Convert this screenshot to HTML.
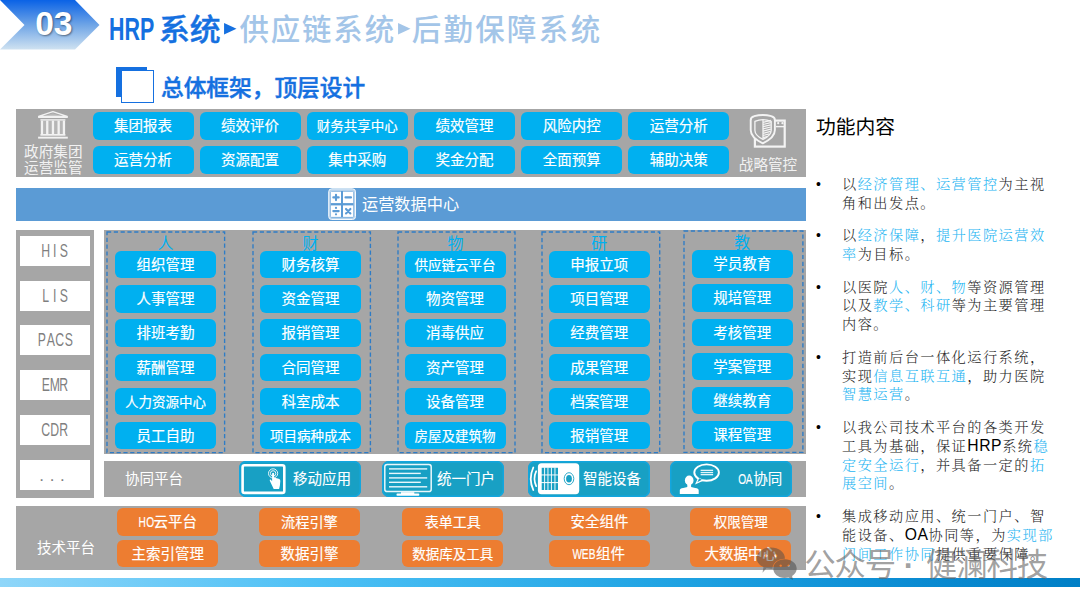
<!DOCTYPE html>
<html lang="zh-CN">
<head>
<meta charset="utf-8">
<title>HRP系统 供应链系统 后勤保障系统</title>
<style>
html,body{margin:0;padding:0;background:#fff;}
body{width:1080px;height:608px;position:relative;overflow:hidden;font-family:"Liberation Sans","Noto Sans CJK SC",sans-serif;}
.abs{position:absolute;}
.panel{position:absolute;background:#a6a6a6;}
.btn{position:absolute;width:101px;height:27.5px;border-radius:6px;background:#00b0f0;color:#fff;font-size:14.5px;line-height:29.4px;text-align:center;font-weight:400;-webkit-text-stroke:0.18px #fff;white-space:nowrap;}
.btn.sm,.obtn.sm{font-size:13.5px;}
.obtn{position:absolute;width:101.3px;height:27.6px;border-radius:6px;background:#ed7d31;color:#fff;font-size:14.5px;line-height:29.4px;text-align:center;font-weight:400;-webkit-text-stroke:0.18px #fff;white-space:nowrap;}
.dash{position:absolute;overflow:visible;}
.cat{position:absolute;width:40px;text-align:center;color:#00b0f0;font-size:16px;line-height:18px;}
.wbox{position:absolute;left:19.5px;width:70.5px;height:30px;background:#fff;color:#7f7f7f;font-size:17.5px;line-height:30.5px;text-align:center;}
.hw{display:inline-block;width:1em;margin:0 -0.243em;transform:scaleX(.7);text-align:center;}
.tbtn{position:absolute;height:36.4px;border-radius:7px;background:#18a0c4;box-shadow:0 0 0 1.5px #13a6de inset;color:#fff;font-size:14.5px;font-weight:400;-webkit-text-stroke:0.12px #fff;}
.lbl{position:absolute;color:#fff;white-space:nowrap;}

#bl{position:absolute;left:842px;top:175.1px;margin:0;padding:0;list-style:none;width:240px;font-family:"Liberation Serif","Noto Serif CJK SC",serif;font-size:14.2px;line-height:18.9px;letter-spacing:1.47px;color:#262626;font-weight:300;}
#bl li{position:relative;margin:0 0 13.4px 0;white-space:nowrap;}
#bl li:before{content:"•";position:absolute;left:-26px;top:0;font-family:"Liberation Sans",sans-serif;font-size:14px;letter-spacing:0;color:#000;}
#bl b{font-weight:inherit;color:#29b6f2;}
#bl i{font-style:normal;font-family:"Liberation Sans",sans-serif;letter-spacing:0.6px;color:#000;font-size:15.7px;line-height:10px;}
</style>
</head>
<body>

<!-- header chevron -->
<svg class="abs" style="left:0;top:0" width="110" height="56" viewBox="0 0 110 56">
  <defs>
    <linearGradient id="cg" x1="0" y1="0" x2="0" y2="1">
      <stop offset="0" stop-color="#0a62e6"/>
      <stop offset="0.5" stop-color="#6ea4e6"/>
      <stop offset="1" stop-color="#cfe2f1"/>
    </linearGradient>
  </defs>
  <polygon points="0,0 75,0 99.5,25 75,49.5 0,49.5 24.5,25" fill="url(#cg)"/>
</svg>
<div class="abs" style="left:32.8px;top:5px;width:42px;text-align:center;font-size:33.5px;line-height:38px;font-weight:bold;color:#fff;text-shadow:1px 1px 2px rgba(0,0,0,.45);">03</div>

<!-- title -->
<div class="abs" id="title" style="left:110px;top:9.2px;font-size:29.4px;line-height:40px;font-weight:500;white-space:nowrap;color:#1570e0;"><span id="hrp" style="display:inline-block;width:49.6px;margin-left:-0.6px;font-weight:bold;font-size:30.6px"><span style="display:inline-block;transform:scaleX(.7);transform-origin:0 50%;">HRP</span></span><span id="t1" style="-webkit-text-stroke:0.4px #1570e0;display:inline-block;transform:scaleX(1.05);transform-origin:0 50%;margin-right:1.6px">系统</span><svg class="arr" width="12.6" height="11.4" viewBox="0 0 12 11" style="margin:0 2.5px 0 5px;vertical-align:5.6px"><polygon points="0,0 12,5.5 0,11" fill="#1570e0"/></svg><span style="color:#a3c5e8;font-weight:500;letter-spacing:1.6px"><span id="t2" style="letter-spacing:1.9px">供应链系统</span><svg class="arr" width="12.6" height="11.4" viewBox="0 0 12 11" style="margin:0 1.1px 0 2.1px;vertical-align:5.6px"><polygon points="0,0 12,5.5 0,11" fill="#a3c5e8"/></svg><span id="t3" style="letter-spacing:2.4px">后勤保障系统</span></span></div>

<!-- section heading -->
<div class="abs" style="left:116px;top:67px;width:31px;height:30px;background:#1570e0;"></div>
<div class="abs" style="left:121px;top:70px;width:31px;height:31px;background:#fff;border:1px solid #1570e0;box-sizing:content-box;"></div>
<div class="abs" id="h2" style="left:161px;top:72.3px;font-size:22.7px;line-height:32px;font-weight:500;-webkit-text-stroke:0.45px #1570e0;color:#1570e0;white-space:nowrap;">总体框架，顶层设计</div>

<!-- top panel -->
<div class="panel" style="left:15.5px;top:109px;width:790px;height:68px;"></div>
<div class="btn" style="left:92.5px;top:112px;">集团报表</div>
<div class="btn" style="left:199.6px;top:112px;">绩效评价</div>
<div class="btn sm" style="left:306.8px;top:112px;">财务共享中心</div>
<div class="btn" style="left:414px;top:112px;">绩效管理</div>
<div class="btn" style="left:521.2px;top:112px;">风险内控</div>
<div class="btn" style="left:628.3px;top:112px;">运营分析</div>
<div class="btn" style="left:92.5px;top:146px;">运营分析</div>
<div class="btn" style="left:199.6px;top:146px;">资源配置</div>
<div class="btn" style="left:306.8px;top:146px;">集中采购</div>
<div class="btn" style="left:414px;top:146px;">奖金分配</div>
<div class="btn" style="left:521.2px;top:146px;">全面预算</div>
<div class="btn" style="left:628.3px;top:146px;">辅助决策</div>
<div class="lbl" id="gov" style="left:14.8px;top:143.6px;width:77px;text-align:center;font-size:14.6px;line-height:16.8px;color:#f2f2f2;">政府集团<br>运营监管</div>
<div class="lbl" id="stra" style="left:729.5px;top:155.8px;width:77px;text-align:center;font-size:14.6px;line-height:19px;color:#f2f2f2;">战略管控</div>
<!-- blue bar -->
<div class="abs" style="left:16px;top:188px;width:790px;height:32.5px;background:#5b9bd5;"></div>
<div class="lbl" id="odc" style="left:362px;top:193px;font-size:16.2px;line-height:23px;">运营数据中心</div>
<!-- sidebar -->
<div class="panel" style="left:15.5px;top:229.5px;width:78px;height:268px;"></div>
<div class="wbox" style="top:236.25px;"><span class="hw">H</span><span class="hw">I</span><span class="hw">S</span></div>
<div class="wbox" style="top:280.75px;"><span class="hw">L</span><span class="hw">I</span><span class="hw">S</span></div>
<div class="wbox" style="top:325.25px;"><span class="hw">P</span><span class="hw">A</span><span class="hw">C</span><span class="hw">S</span></div>
<div class="wbox" style="top:369.5px;"><span class="hw">E</span><span class="hw">M</span><span class="hw">R</span></div>
<div class="wbox" style="top:415px;"><span class="hw">C</span><span class="hw">D</span><span class="hw">R</span></div>
<div class="wbox" style="top:460px;;letter-spacing:5.6px;text-indent:0.2px;font-size:17px;line-height:31px">...</div>
<!-- main -->
<div class="panel" style="left:104px;top:229.5px;width:701.5px;height:224.3px;"></div>
<svg class="dash" style="left:106.40px;top:231.00px;" width="119.6" height="222.6"><rect x="1" y="1" width="117.6" height="220.6" fill="none" stroke="#2e7cc6" stroke-width="1.35" stroke-dasharray="4.2 2.6"/></svg>
<div class="cat" style="left:145.5px;top:235.20px;">人</div>
<div class="btn" style="left:115px;top:250.75px;">组织管理</div>
<div class="btn" style="left:115px;top:285px;">人事管理</div>
<div class="btn" style="left:115px;top:319.25px;">排班考勤</div>
<div class="btn" style="left:115px;top:353.5px;">薪酬管理</div>
<div class="btn sm" style="left:115px;top:387.5px;">人力资源中心</div>
<div class="btn" style="left:115px;top:421.75px;">员工自助</div>
<svg class="dash" style="left:251.70px;top:231.00px;" width="119.4" height="222.6"><rect x="1" y="1" width="117.4" height="220.6" fill="none" stroke="#2e7cc6" stroke-width="1.35" stroke-dasharray="4.2 2.6"/></svg>
<div class="cat" style="left:290.5px;top:235.20px;">财</div>
<div class="btn" style="left:260px;top:250.75px;">财务核算</div>
<div class="btn" style="left:260px;top:285px;">资金管理</div>
<div class="btn" style="left:260px;top:319.25px;">报销管理</div>
<div class="btn" style="left:260px;top:353.5px;">合同管理</div>
<div class="btn" style="left:260px;top:387.5px;">科室成本</div>
<div class="btn sm" style="left:260px;top:421.75px;">项目病种成本</div>
<svg class="dash" style="left:396.60px;top:231.00px;" width="119.0" height="222.6"><rect x="1" y="1" width="117.0" height="220.6" fill="none" stroke="#2e7cc6" stroke-width="1.35" stroke-dasharray="4.2 2.6"/></svg>
<div class="cat" style="left:435.5px;top:235.20px;">物</div>
<div class="btn sm" style="left:404.6px;top:250.75px;">供应链云平台</div>
<div class="btn" style="left:404.6px;top:285px;">物资管理</div>
<div class="btn" style="left:404.6px;top:319.25px;">消毒供应</div>
<div class="btn" style="left:404.6px;top:353.5px;">资产管理</div>
<div class="btn" style="left:404.6px;top:387.5px;">设备管理</div>
<div class="btn sm" style="left:404.6px;top:421.75px;">房屋及建筑物</div>
<svg class="dash" style="left:540.60px;top:231.00px;" width="119.7" height="222.6"><rect x="1" y="1" width="117.7" height="220.6" fill="none" stroke="#2e7cc6" stroke-width="1.35" stroke-dasharray="4.2 2.6"/></svg>
<div class="cat" style="left:579.25px;top:235.20px;">研</div>
<div class="btn" style="left:548.75px;top:250.75px;">申报立项</div>
<div class="btn" style="left:548.75px;top:285px;">项目管理</div>
<div class="btn" style="left:548.75px;top:319.25px;">经费管理</div>
<div class="btn" style="left:548.75px;top:353.5px;">成果管理</div>
<div class="btn" style="left:548.75px;top:387.5px;">档案管理</div>
<div class="btn" style="left:548.75px;top:421.75px;">报销管理</div>
<svg class="dash" style="left:683.30px;top:230.20px;" width="120.9" height="223.4"><rect x="1" y="1" width="118.9" height="221.4" fill="none" stroke="#2e7cc6" stroke-width="1.35" stroke-dasharray="4.2 2.6"/></svg>
<div class="cat" style="left:722.25px;top:234.45px;">教</div>
<div class="btn" style="left:691.75px;top:250.0px;">学员教育</div>
<div class="btn" style="left:691.75px;top:284.25px;">规培管理</div>
<div class="btn" style="left:691.75px;top:318.5px;">考核管理</div>
<div class="btn" style="left:691.75px;top:352.75px;">学案管理</div>
<div class="btn" style="left:691.75px;top:386.75px;">继续教育</div>
<div class="btn" style="left:691.75px;top:421.0px;">课程管理</div>
<!-- collab -->
<div class="panel" style="left:104px;top:461.25px;width:701.5px;height:35.5px;"></div>
<div class="lbl" style="left:125px;top:468.5px;font-size:14.5px;line-height:20px;">协同平台</div>
<div class="tbtn" style="left:239px;top:461px;width:121.5px;"><span class="lbl" style="left:54px;top:8px;line-height:20px;">移动应用</span></div>
<div class="tbtn" style="left:382.4px;top:461px;width:122.1px;"><span class="lbl" style="left:54.5px;top:8px;line-height:20px;">统一门户</span></div>
<div class="tbtn" style="left:527.5px;top:461px;width:122px;"><span class="lbl" style="left:55.5px;top:8px;line-height:20px;">智能设备</span></div>
<div class="tbtn" style="left:670.4px;top:461px;width:121.5px;"><span class="lbl" style="left:68px;top:8px;line-height:20px;"><span class="hw">O</span><span class="hw">A</span>协同</span></div>
<!-- tech -->
<div class="panel" style="left:15.5px;top:505.5px;width:790px;height:64.5px;"></div>
<div class="lbl" style="left:37px;top:538px;font-size:14.5px;line-height:20px;">技术平台</div>
<div class="obtn" style="left:117.2px;top:508.1px;"><span class="hw">H</span><span class="hw">O</span>云平台</div>
<div class="obtn" style="left:258.75px;top:508.1px;font-size:14.2px">流程引擎</div>
<div class="obtn" style="left:402px;top:508.1px;font-size:14px">表单工具</div>
<div class="obtn" style="left:548.75px;top:508.1px;">安全组件</div>
<div class="obtn sm" style="left:690px;top:508.1px;">权限管理</div>
<div class="obtn" style="left:117.2px;top:539.8px;">主索引管理</div>
<div class="obtn" style="left:258.75px;top:539.8px;">数据引擎</div>
<div class="obtn sm" style="left:402px;top:539.8px;">数据库及工具</div>
<div class="obtn" style="left:548.75px;top:539.8px;"><span class="hw">W</span><span class="hw">E</span><span class="hw">B</span>组件</div>
<div class="obtn" style="left:690px;top:539.8px;">大数据中心</div>

<!-- icons -->
<svg class="abs" style="left:36px;top:109px" width="34" height="32" viewBox="36 109 34 32" fill="#f2f2f2">
  <path d="M52.9 111.700 L67.2 116.3 L38.6 116.3 Z" fill="none" stroke="#f2f2f2" stroke-width="1.3" stroke-linejoin="round"/>
  <path d="M52.9 113.2 L61.5 116 L44.3 116 Z" fill="#f2f2f2" opacity=".25"/>
  <rect x="38.1" y="116.2" width="29.7" height="1.8"/>
  <rect x="40.4" y="119.2" width="25" height="1.4"/>
  <rect x="41.6" y="120.6" width="22.6" height="13.4" opacity=".22"/>
  <rect x="40.8" y="120.6" width="2.3" height="13.4"/>
  <rect x="46.1" y="120.6" width="2.3" height="13.4"/>
  <rect x="51.8" y="120.6" width="2.3" height="13.4"/>
  <rect x="57.5" y="120.6" width="2.3" height="13.4"/>
  <rect x="62.8" y="120.6" width="2.3" height="13.4"/>
  <rect x="40.4" y="134" width="25" height="1.7"/>
  <rect x="38.1" y="136.7" width="29.7" height="1.9"/>
</svg>

<svg class="abs" style="left:746px;top:111px" width="44" height="40" viewBox="746 111 44 40">
  <rect x="754.9" y="120.6" width="29.800" height="26" fill="none" stroke="#f4f4f4" stroke-width="2.2"/>
  <rect x="776" y="125.900" width="9" height="1.400" fill="#f4f4f4"/>
  <circle cx="778.2" cy="123.2" r="1.100" fill="#f4f4f4"/>
  <circle cx="782.4" cy="123.2" r="1.100" fill="#f4f4f4"/>
  <path d="M750.7 120.200 Q750.7 116.900 754.200 116.200 Q762.8 113.700 771.400 116.200 Q774.900 116.900 774.900 120.200 L774.900 130 Q774.900 137.500 762.800 143.300 Q750.7 137.500 750.7 130 Z" fill="#a6a6a6" stroke="#f4f4f4" stroke-width="1.900" stroke-linejoin="round"/>
  <path d="M754.9 121.4 Q763 117.900 771.200 121.400 L771.200 130.200 Q771.200 135.400 763 139.400 Q754.900 135.400 754.900 130.200 Z" fill="none" stroke="#f4f4f4" stroke-width="1.300" stroke-linejoin="round"/>
  <g stroke="#f4f4f4" stroke-width="1.250" fill="none">
    <path d="M763 120 L763 139" stroke-width="1.300"/>
    <path d="M763 122.300 L770.800 120.400M763 124.500 L770.800 122.600M763 126.700 L770.800 124.800M763 128.900 L770.800 127M763 131.100 L770.800 129.200M763 133.300 L770.600 131.400M763 135.500 L769.400 133.900M763 137.600 L767 136.600"/>
  </g>
</svg>

<svg class="abs" style="left:326px;top:186px" width="32" height="36" viewBox="326 186 32 36">
  <rect x="328.7" y="188.8" width="26.8" height="30.7" rx="3" fill="rgba(255,255,255,.55)" stroke="#f4f9fd" stroke-width="1"/>
  <rect x="330.6" y="191" width="23" height="26.4" rx="1.5" fill="#5b9bd5"/>
  <g fill="#fff">
    <rect x="330.9" y="191.6" width="10.1" height="11.5"/>
    <rect x="343" y="191.6" width="10.2" height="11.5"/>
    <rect x="330.9" y="205.4" width="10.1" height="11.5"/>
    <rect x="343" y="205.4" width="10.2" height="11.5"/>
  </g>
  <g stroke="#5b9bd5" stroke-width="2.1" stroke-linecap="round" fill="none">
    <path d="M333.3 197.4 H338.7 M336 194.7 V200.1"/>
    <path d="M345.5 197.4 H351"/>
    <path d="M333.3 211.1 H338.7"/>
    <path d="M346 208.9 L350.4 213.500 M350.4 208.9 L346 213.500"/>
  </g>
  <circle cx="336" cy="207.9" r="1.1" fill="#5b9bd5"/>
  <circle cx="336" cy="214.300" r="1.100" fill="#5b9bd5"/>
</svg>

<!-- tablet -->
<svg class="abs" style="left:239px;top:461px" width="50" height="37" viewBox="239 461 50 37">
  <rect x="242.6" y="465.3" width="41.7" height="27.6" rx="2" fill="none" stroke="#fff" stroke-width="2.6"/>
  <circle cx="273.1" cy="473.4" r="4.6" fill="none" stroke="#fff" stroke-width=".9"/>
  <circle cx="273.1" cy="473.4" r="2.7" fill="none" stroke="#fff" stroke-width=".9"/>
  <path d="M272.1 473.3 q1 -1.3 2 0 l0 4.4 l1.6 .3 l2 .5 l1.6 .6 q1 .5 1 1.8 l-.4 4.6 l-.8 3.6 l-5.400 0 l-1.3 -2.800 l-2.600 -5.600 q-.3 -1.500 1.100 -1 l1.200 1.600 z" fill="#fff"/>
</svg>

<!-- monitor -->
<svg class="abs" style="left:382px;top:461px" width="52" height="37" viewBox="382 461 52 37">
  <rect x="384.8" y="464.4" width="46.4" height="27.2" rx="2.4" fill="none" stroke="#e9f7fc" stroke-width="1.5"/>
  <g fill="#e9f7fc">
    <rect x="389" y="468.2" width="38.2" height="1.4"/>
    <rect x="389" y="472.7" width="31.8" height="1.4"/>
    <rect x="389" y="477.2" width="38.2" height="1.4"/>
    <rect x="389" y="481.6" width="31.8" height="1.4"/>
    <rect x="389" y="486.1" width="38.2" height="1.4"/>
  </g>
  <rect x="401" y="492.2" width="13.3" height="2" fill="#fff"/>
  <rect x="396.500" y="493.6" width="22.8" height="2.100" rx=".8" fill="#fff"/>
</svg>

<!-- smart device -->
<svg class="abs" style="left:527px;top:461px" width="56" height="37" viewBox="527 461 56 37">
  <rect x="537.900" y="463.200" width="41.300" height="31" rx="3.600" fill="#fff"/>
  <g fill="#18a0c4">
    <rect x="541.7" y="467.800" width="16.300" height="6.700"/>
    <rect x="541.7" y="475.400" width="16.300" height="6.700"/>
    <rect x="541.7" y="483.100" width="16.300" height="6.900"/>
  </g>
  <g fill="#fff" opacity=".85">
    <rect x="544" y="467.5" width="1.100" height="23"/>
    <rect x="547.4" y="467.5" width="1.100" height="23"/>
    <rect x="550.9" y="467.5" width="1.100" height="23"/>
    <rect x="554.4" y="467.5" width="1.100" height="23"/>
  </g>
  <ellipse cx="569" cy="478.700" rx="4.800" ry="6" fill="none" stroke="#18a0c4" stroke-width=".9"/>
  <ellipse cx="569" cy="478.700" rx="2.900" ry="3.800" fill="#18a0c4"/>
  <path d="M533.300 467.500 Q528.200 478.700 533.300 490" fill="none" stroke="#fff" stroke-width="1.800" stroke-linecap="round"/>
  <path d="M536.200 471.200 Q532.800 478.700 536.200 486.200" fill="none" stroke="#fff" stroke-width="1.700" stroke-linecap="round"/>
</svg>

<!-- OA -->
<svg class="abs" style="left:676px;top:461px" width="48" height="37" viewBox="676 461 48 37">
  <path d="M695 484.600 L697.700 478.800 L703.800 480.600 Z" fill="#fff"/>
  <ellipse cx="706.600" cy="472.600" rx="12.300" ry="8.200" fill="#18a0c4" stroke="#fff" stroke-width="1.900"/>
  <path d="M697.300 482.300 L699.200 478.300 L701.800 479.800 Z" fill="#18a0c4"/>
  <g fill="#e4f4fa">
    <rect x="700.600" y="469.700" width="12.500" height="1.300"/>
    <rect x="700.600" y="471.900" width="12.500" height="1.300"/>
    <rect x="700.600" y="474" width="12.500" height="1.300"/>
  </g>
  <ellipse cx="689.200" cy="480.400" rx="4.300" ry="4.900" fill="#fff"/>
  <rect x="687.300" y="483.500" width="3.800" height="5" fill="#fff"/>
  <path d="M679.800 493.900 L679.800 490.200 Q679.800 488.600 683.200 488 L687.400 487 L691 487 L695.200 488 Q698.700 488.600 698.700 490.200 L698.700 493.900 Z" fill="#fff"/>
</svg>



<!-- bottom bar -->
<div class="abs" style="left:0;top:578px;width:1080px;height:9px;background:linear-gradient(90deg,#8fd6f9 0%,#4cc0f5 30%,#22a5e4 60%,#0a8bd2 85%,#007fc6 100%);"></div>
<!-- wechat watermark icon -->
<svg class="abs" style="left:752px;top:544px" width="52" height="40" viewBox="752 544 52 40">
  <path fill="rgba(75,75,75,.5)" fill-rule="evenodd" d="M770.800 547.600 C778.600 547.600 784.900 552.300 784.900 558.200 C784.900 558.400 784.900 558.600 784.900 558.700 C778 558.600 772.600 562.900 772.600 568.400 C772.600 568.500 772.600 568.700 772.600 568.800 C772 568.800 771.400 568.800 770.800 568.800 C769.300 568.800 767.900 568.600 766.500 568.300 L762.500 572.800 L763.500 567.100 C759.400 565.200 756.700 561.900 756.700 558.200 C756.700 552.300 763 547.600 770.800 547.600 Z M766 554.200 a1.600 1.600 0 1 0 .01 0 Z M775.700 554.200 a1.600 1.600 0 1 0 .01 0 Z"/>
  <path fill="rgba(75,75,75,.56)" fill-rule="evenodd" d="M784.700 559.300 C791.300 559.300 796.700 563.300 796.700 568.600 C796.700 571.600 794.900 574.300 792.100 576 L793 580 L788.600 577.600 C787.400 577.900 786.100 578.100 784.700 578.100 C778.100 578.100 773.300 573.800 773.300 568.600 C773.300 563.300 778.100 559.300 784.700 559.300 Z M780.700 564.400 a1.200 1.200 0 1 0 .01 0 Z M788.700 564.400 a1.200 1.200 0 1 0 .01 0 Z"/>
</svg>

<!-- right text -->
<div class="abs" id="rt" style="left:816px;top:112px;font-size:19.8px;line-height:30px;color:#000;white-space:nowrap;">功能内容</div>
<ul id="bl">
<li>以<b>经济管理、运营管控</b>为主视<br>角和出发点。</li>
<li>以<b>经济保障</b>，<b>提升医院运营效<br>率</b>为目标。</li>
<li>以医院<b>人、财、物</b>等资源管理<br>以及<b>教学、科研</b>等为主要管理<br>内容。</li>
<li>打造前后台一体化运行系统，<br>实现<b>信息互联互通</b>，助力医院<br><b>智慧运营</b>。</li>
<li>以我公司技术平台的各类开发<br>工具为基础，保证<i>HRP</i>系统<b>稳<br>定安全运行</b>，并具备一定的<b>拓<br>展空间</b>。</li>
<li>集成移动应用、统一门户、智<br>能设备、<i>OA</i>协同等，为<b>实现部<br>门间工作协同</b>提供重要保障。</li>
</ul>
<div class="abs" id="wm" style="left:804.3px;top:545.6px;font-size:31.4px;letter-spacing:-1.2px;line-height:40px;font-weight:400;color:rgba(100,100,100,.62);white-space:nowrap;">公众号<span style="display:inline-block;width:31.2px;text-align:center;position:relative;left:-2px;font-weight:900">·</span>健澜科技</div>

</body>
</html>
